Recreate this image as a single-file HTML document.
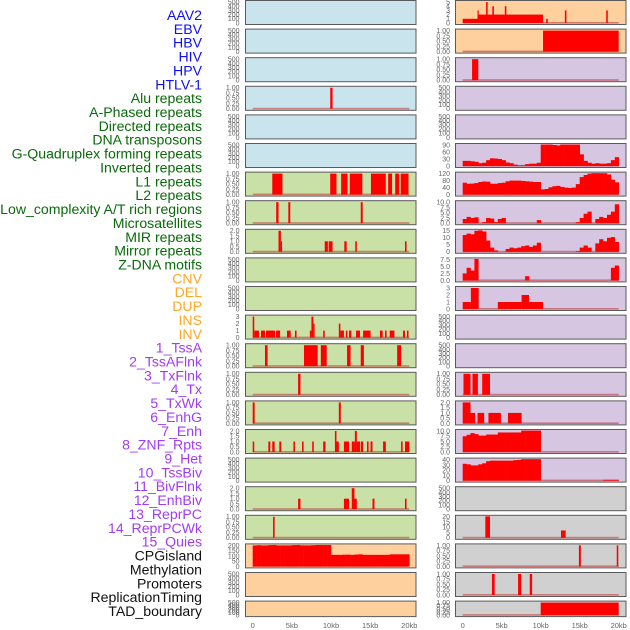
<!DOCTYPE html>
<html><head><meta charset="utf-8">
<style>
html,body{margin:0;padding:0;background:#fff;width:630px;height:630px;overflow:hidden}
svg{display:block}
.lbl{font-family:"Liberation Sans",sans-serif;font-size:14.1px}
.tk{font-family:"Liberation Sans",sans-serif;font-size:7px;fill:#666}
.xt{font-family:"Liberation Sans",sans-serif;font-size:7.5px;fill:#666}
</style></head>
<body>
<svg id="chart" width="630" height="630" viewBox="0 0 630 630">
<g id="labels"></g>
<g id="panels"></g>
<g id="xaxis"></g>
</svg>
<script>
const trackNames = ["AAV2","EBV","HBV","HIV","HPV","HTLV-1","Alu repeats","A-Phased repeats","Directed repeats","DNA transposons","G-Quadruplex forming repeats","Inverted repeats","L1 repeats","L2 repeats","Low_complexity A/T rich regions","Microsatellites","MIR repeats","Mirror repeats","Z-DNA motifs","CNV","DEL","DUP","INS","INV","1_TssA","2_TssAFlnk","3_TxFlnk","4_Tx","5_TxWk","6_EnhG","7_Enh","8_ZNF_Rpts","9_Het","10_TssBiv","11_BivFlnk","12_EnhBiv","13_ReprPC","14_ReprPCWk","15_Quies","CPGisland","Methylation","Promoters","ReplicationTiming","TAD_boundary"];
const trackGroups = ["v","v","v","v","v","v","r","r","r","r","r","r","r","r","r","r","r","r","r","s","s","s","s","s","c","c","c","c","c","c","c","c","c","c","c","c","c","c","c","o","o","o","o","o"];
const xTickLabels = ["0","5kb","10kb","15kb","20kb"];
const xTickValues = [0,5,10,15,20];

const E = ["0","100","200","300","400","500"];
const P1 = ["0.00","0.25","0.50","0.75","1.00"];
const P2 = ["0.0","0.5","1.0","1.5","2.0"];
const leftTicks = [E,E,E,P1,E,E,P1,P1,P2,E,E,["0","1","2","3"],P1,P1,P1,P2,E,P2,P1,["0","50","100","150","200"],E,E];
const rightTicks = [["0","1","2","3","4","5"],P1,P1,E,E,["0","30","60","90"],["0","40","80","120"],["0.0","2.5","5.0","7.5","10.0"],["0","5","10","15"],["0.0","2.5","5.0","7.5"],["0","1","2","3"],E,E,P1,P2,["0.0","2.5","5.0","7.5","10.0"],["0","10","20","30","40"],E,["0","5","10","15","20"],P1,P1,P1];
const leftBg = ["b","b","b","b","b","b","g","g","g","g","g","g","g","g","g","g","g","g","g","o","o","o"];
const rightBg = ["o","o","p","p","p","p","p","p","p","p","p","p","p","p","p","p","p","k","k","k","k","k"];

const leftSegs = [[],[],[],
 [[9.9,10.2,1]],[],[],
 [[2.5,3.8,1],[9.9,10.7,1],[11.3,12.1,1],[12.4,14.0,1],[15.1,17.0,1],[17.3,17.8,1],[18.2,18.7,1],[18.9,19.9,1]],
 [[3.0,3.3,1],[4.55,4.8,1],[13.8,14.05,1]],
 [[3.3,3.6,2],[3.6,3.7,1],[9.2,9.6,1],[9.7,10.2,1],[11.7,12.0,1],[13.1,13.3,1],[19.45,19.65,1]],
 [],[],
 [[0,0.2,3],[0.2,0.8,1],[1.06,1.57,1],[1.7,2.85,1],[2.98,3.5,1],[4.38,4.85,1],[5.4,5.6,1],[7.3,7.5,1],[7.5,7.75,3],[7.75,7.85,2],[9.0,9.2,1],[11.0,11.2,2],[11.2,11.65,1],[11.9,12.1,1],[12.3,12.6,1],[13.2,13.7,1],[14.1,15.05,1],[16.25,16.6,1],[16.9,17.1,1],[17.5,18.1,1],[19.2,19.45,1],[19.7,19.9,1]],
 [[1.57,1.9,1],[6.55,8.3,1],[8.7,9.45,1],[12.05,12.5,1],[13.8,14.2,1],[18.45,18.95,1]],
 [[5.8,6.1,1]],
 [[0,0.25,1],[11.0,11.25,1]],
 [[0,0.2,1],[2.0,2.25,1],[2.5,2.8,1],[3.4,3.65,1],[5.2,5.4,1],[6.3,6.5,1],[7.6,7.8,1],[9.0,9.3,1],[10.5,10.7,2],[10.7,11.0,1],[11.65,12.3,1],[12.65,13.05,1],[13.05,13.3,2],[13.3,13.7,1],[13.8,14.1,1],[14.6,14.8,1],[15.05,15.3,1],[16.65,17.0,1],[18.95,19.15,1],[19.45,20,1]],
 [],
 [[5.8,6.1,1],[11.65,12.3,1],[12.65,13.0,2],[13.0,13.3,1],[15.3,15.55,1],[19.45,19.65,1]],
 [[2.6,2.8,1]],
 [],[],[]];
const rightSegs = [
 [[0,1.9,1],[1.9,10.3,2],[1.9,2.05,3],[3.0,3.2,5],[3.8,4.0,4],[5.4,5.6,4],[10.7,10.9,1],[13.1,13.3,3],[18.4,18.6,3]],
 [[10.3,20,1]],
 [[1.2,2.0,1]],
 [],[],[],[],[],[],[],
 [[0,1.05,1],[1.05,2.05,3],[4.5,7.55,1],[7.55,8.5,2],[8.5,10.3,1]],
 [],[],
 [[0.1,1.0,1],[1.25,1.95,1],[2.5,3.5,1]],
 [[0,1.0,2],[1.0,1.6,1],[1.9,2.75,1],[3.3,4.9,1],[5.8,7.55,1]],
 [],[],[],
 [[2.9,3.5,25],[12.6,13.2,7]],
 [[14.9,15.15,1],[19.75,19.95,1]],
 [[3.75,4.1,1],[7.1,7.5,1],[8.6,8.9,1]],
 [[10.0,20,1]]];

const cpgBins = [200,202,200,200,203,205,200,200,200,200,203,205,201,200,200,202,205,206,205,205,110,110,110,112,112,110,113,115,110,110,110,110,110,110,110,115,115,115,115,115];
const gquadBins = [22,22,20,18,12,14,25,33,32,30,25,15,12,6,2,3,8,10,10,14,108,102,100,90,88,92,96,100,96,92,50,22,14,10,12,10,10,12,25,38];
const l1Bins = [68,62,63,66,72,75,74,62,62,66,68,76,80,80,80,78,76,74,72,72,30,32,42,48,50,44,40,38,40,60,100,112,120,126,125,124,122,115,85,70];
const lowcBins = [2,3,2.5,2.8,0,0.5,2.5,2.2,0.5,2,2.5,0,0,0,0,0,0,0,0,1.5,0,0,0,0,0,0,0,0,0,0.5,2.5,4.5,5.5,0,2,3,2.5,4,5.5,9];
const mirBins = [12,13,12.5,15,15.5,14.5,8,3,1,0,0,2,3,2.5,3,4,4.5,3.5,4.5,6.5,0,0,0,0,0,0,0,0,0,0.5,3,4.5,3,0,6,9,7.5,10,10.5,7];
const mirrorBins = [2.5,4.5,3.5,9,0,0,0,0,0,0,0,0,0,0,0,0,1.5,0,0,0,0,0,0,0,0,0,0,0,0,0,0,0,0,0,0,0,0,0,4.5,5.3];
const state8Bins = [7.5,8.2,9,8.5,7.8,7.8,8.3,8.3,8.3,9.3,9.3,9.3,9.3,9.3,9.3,10.3,10.3,10.3,10.3,10.3,0,0,0,0,0,0,0,0,0,0,0,0,0,0,0,0,0,0,0,0];
const state9Bins = [32,31,29,29,31,33,37,38,38,38,38,38,38,39,39.5,41,41,41,41,41,0,0,0,0,0,0,0,0,0,0,0,0,0,0,0,0,1.5,1.5,1.5,1.5];
const leftProfiles = {19: cpgBins};
const rightProfiles = {5: gquadBins, 6: l1Bins, 7: lowcBins, 8: mirBins, 9: mirrorBins, 15: state8Bins, 16: state9Bins};

const NS = "http://www.w3.org/2000/svg";
function mk(tag, attrs, parent){const e=document.createElementNS(NS,tag);for(const k in attrs)e.setAttribute(k,attrs[k]);parent.appendChild(e);return e;}
const groupColor = {v:"#1010f0", r:"#0a6a0a", s:"#ffa726", c:"#a23cf0", o:"#111"};
const bgColor = {b:"#c9e4ec", g:"#c9e1a6", o:"#fdd09e", p:"#d6c6e2", k:"#d0d0d0"};

const lg = document.getElementById("labels");
trackNames.forEach((n,i)=>{
  const t = mk("text",{x:202,y:15+i*13.86+5,"text-anchor":"end",class:"lbl",fill:groupColor[trackGroups[i]]},lg);
  t.textContent = n;
  
  
});

const pg = document.getElementById("panels");
const cols = [
  {fx:245.5, x0:252.7, k:7.83, ticks:leftTicks, segs:leftSegs, prof:leftProfiles, bg:leftBg, tx:239.5, side:"left"},
  {fx:455.5, x0:462.7, k:7.8, ticks:rightTicks, segs:rightSegs, prof:rightProfiles, bg:rightBg, tx:450, side:"right"}
];
const FW = 170.5;
for (const c of cols){
  const xs = kb => c.x0 + kb*c.k;
  for (let i=0;i<22;i++){
    const top = i*28.6+0.5;
    const h = i===21 ? 15.5 : 24;
    const g = mk("g",{},pg);
    
    
    mk("rect",{x:c.fx,y:top,width:FW,height:h,fill:bgColor[c.bg[i]]},g);
    const tks = c.ticks[i];
    const ymax = parseFloat(tks[tks.length-1]);
    const zero = top+h-1.5, span = h-3;
    const ys = v => zero - Math.min(v,ymax*1.02)/ymax*span;
    tks.forEach(s=>{
      const t = mk("text",{x:c.tx,y:ys(parseFloat(s))+2.4,"text-anchor":"end",class:"tk"},pg);
      t.textContent = s;
      
      
    });
    const segs = c.segs[i], prof = c.prof[i];
    const has = segs.length>0 || prof;
    if (has){
      const b = mk("rect",{x:xs(0),y:zero-1,width:xs(20)-xs(0),height:1.6,fill:"rgba(190,50,50,0.55)"},g);
      
      
    }
    if (prof){
      prof.forEach((v,j)=>{
        if (v<=0) return;
        const r = mk("rect",{x:xs(j*0.5),y:ys(v),width:xs((j+1)*0.5)-xs(j*0.5)+0.3,height:zero-ys(v),fill:"#ff0000"},g);
        
        
      });
    }
    segs.forEach(s=>{
      const r = mk("rect",{x:xs(s[0]),y:ys(s[2]),width:Math.max(1.2,xs(s[1])-xs(s[0])),height:zero-ys(s[2]),fill:"#ff0000"},g);
      
      
    });
    mk("rect",{x:c.fx,y:top,width:FW,height:h,fill:"none",stroke:"#5a5a5a","stroke-width":1},g);
  }
  const xg = document.getElementById("xaxis");
  xTickValues.forEach((v,j)=>{
    const t = mk("text",{x:xs(v),y:628,"text-anchor":"middle",class:"xt"},xg);
    t.textContent = xTickLabels[j];
    
    
  });
}
</script>
</body></html>
